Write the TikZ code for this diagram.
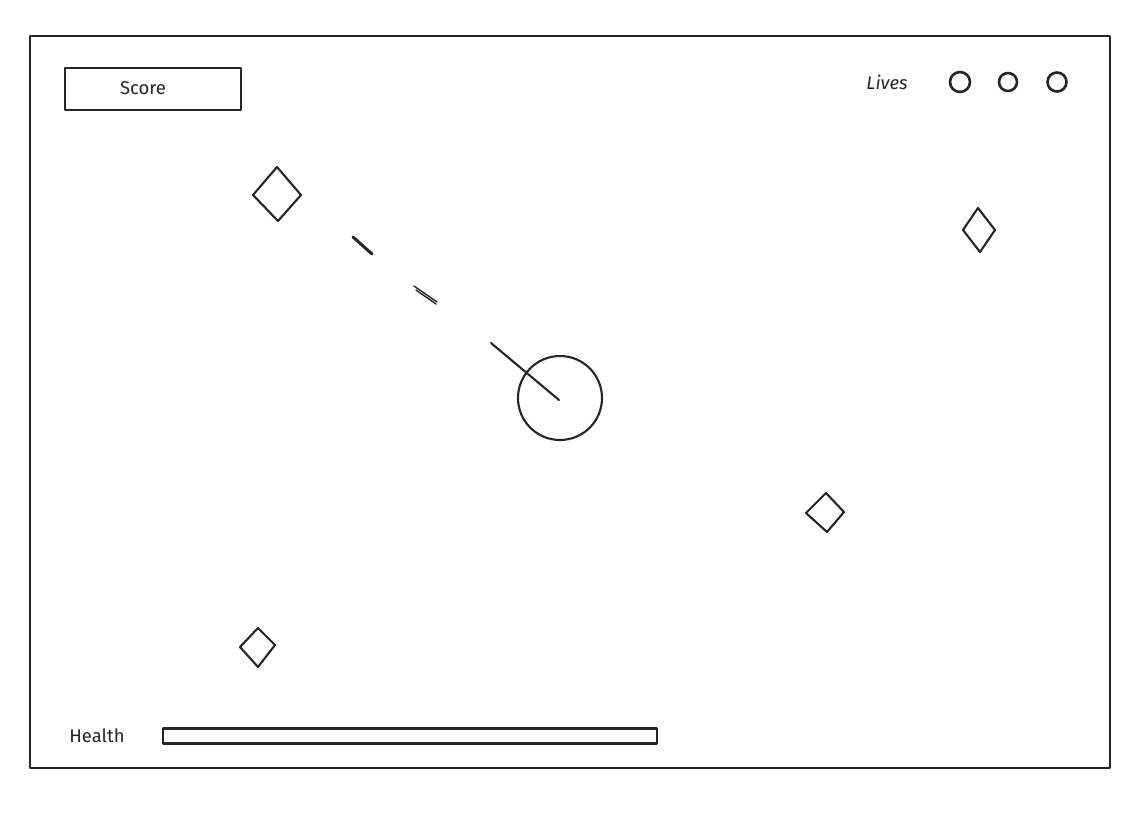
\documentclass[tikz,border=0pt]{standalone}
\usepackage{fontspec}
\setmainfont{Fira Sans}
\begin{document}
\begin{tikzpicture}[x=0.02cm,y=-0.02cm,
  ink/.style={draw=black!85,line width=1.2pt,line join=round,line cap=round},
  thin/.style={draw=black!85,line width=0.8pt,line cap=round},
  lbl/.style={font=\fontsize{10.5}{12}\selectfont,text=black!85,inner sep=0pt}]
\useasboundingbox (0,0) rectangle (1144,818);
\fill[white] (0,0) rectangle (1144,818);
% frame
\coordinate (f1) at (30,36);
\coordinate (f2) at (1110,768);
\draw[ink,line width=1.4pt] (f1) rectangle (f2);
% score
\node[ink,line width=1.4pt,minimum width=176*0.02cm,minimum height=42*0.02cm,inner sep=0pt] (score) at (153,89) {};
\node[lbl] (scoretxt) at (143,88) {Score};
% lives
\node[lbl,font=\fontsize{10.5}{12}\selectfont\itshape] (lives) at (887,82) {Lives};
\node[ink,line width=1.5pt,circle,minimum size=20*0.02cm,inner sep=0pt] (l1) at (960,82) {};
\node[ink,line width=1.5pt,circle,minimum size=18*0.02cm,inner sep=0pt] (l2) at (1008,82) {};
\node[ink,line width=1.5pt,circle,minimum size=19*0.02cm,inner sep=0pt] (l3) at (1057,82) {};
% enemies (diamonds)
\draw[ink] (277,167) -- (301,195) -- (278,221) -- (253,195) -- cycle;
\draw[ink] (978,208) -- (995,230) -- (980,252) -- (963,230) -- cycle;
\draw[ink] (826,493) -- (844,512) -- (827,532) -- (806,513) -- cycle;
\draw[ink] (258,628) -- (275,645) -- (258,667) -- (240,647) -- cycle;
% bullets
\draw[ink,line width=1.7pt] (353,237) -- (372,254);
\draw[thin] (414,286) -- (437,302);
\draw[thin] (416,290) -- (436,304);
% player
\node[ink,circle,minimum size=84*0.02cm,inner sep=0pt] (player) at (560,398) {};
\coordinate (gun) at (491,343);
\draw[ink] (player.center) ++(-1,2) -- (gun);
% health
\node[lbl] (health) at (97,736) {Health};
\node[ink,minimum width=494*0.02cm,minimum height=15*0.02cm,inner sep=0pt,anchor=west] (bar) at (162,736) {};
\end{tikzpicture}
\end{document}
